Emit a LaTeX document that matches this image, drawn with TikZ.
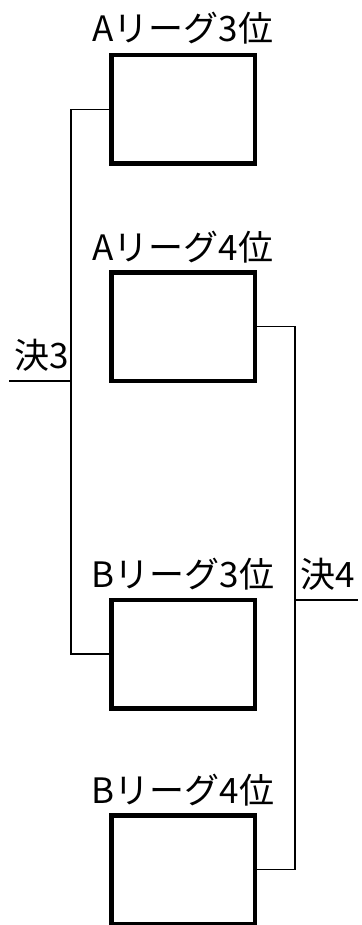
\documentclass[tikz,border=0pt]{standalone}
\usepackage{fontspec}
\newfontfamily\jpfont{Noto Sans CJK JP}
\begin{document}
\begin{tikzpicture}[x=1pt,y=-1pt,
  box/.style={draw, line width=4.5pt, minimum width=143.5pt, minimum height=108.5pt, inner sep=0pt},
  lbl/.style={font=\jpfont\fontsize{35}{35}\selectfont, anchor=base, inner sep=0pt},
  conn/.style={line width=1.3pt}]
\useasboundingbox (0,0) rectangle (361,925);
% boxes
\node[box] (b1) at (183,109.5) {};
\node[box] (b2) at (183,326.5) {};
\node[box] (b3) at (183,654) {};
\node[box] (b4) at (183,869.5) {};
% labels
\node[lbl] (l1) at (183,42) {Aリーグ3位};
\node[lbl] (l2) at (183,260) {Aリーグ4位};
\node[lbl] (l3) at (183,587) {Bリーグ3位};
\node[lbl] (l4) at (183,803) {Bリーグ4位};
\node[lbl, anchor=base east] (d3) at (69,368) {決3};
\node[lbl, anchor=base west] (d4) at (300,587) {決4};
% connectors
\coordinate (k3) at (71,381);
\coordinate (e3) at (9,381);
\coordinate (k4) at (295,600);
\coordinate (e4) at (358,600);
\draw[conn] (b1.west) -| (k3) |- (b3.west);
\draw[conn] (k3) -- (e3);
\draw[conn] (b2.east) -| (k4) |- (b4.east);
\draw[conn] (k4) -- (e4);
\end{tikzpicture}
\end{document}
